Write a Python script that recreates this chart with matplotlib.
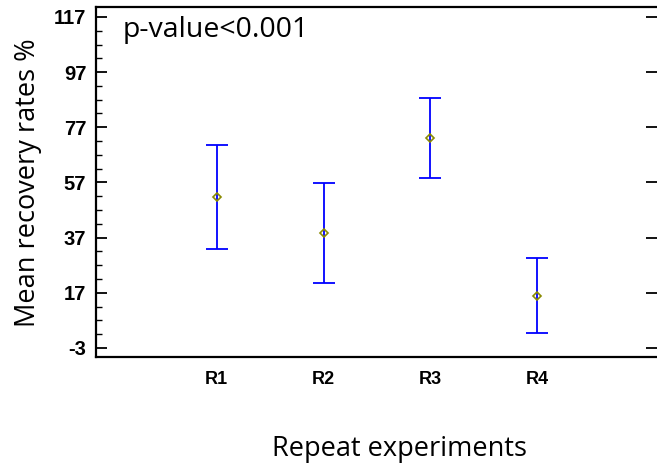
import matplotlib

matplotlib.use("Agg")
import matplotlib.pyplot as plt
from matplotlib.ticker import FixedLocator

plt.rcParams["axes.unicode_minus"] = False

# values
groups = ["R1", "R2", "R3", "R4"]
means = [51.8, 38.7, 73.2, 15.9]
errors = [18.9, 18.2, 14.5, 13.6]
y_ticks = [-3, 17, 37, 57, 77, 97, 117]

fig = plt.figure(figsize=(6.57, 4.68), dpi=100)
ax = fig.add_axes([96 / 657, 1 - 357 / 468, 1 - 96 / 657, 350 / 468])

x = list(range(1, len(groups) + 1))
ax.errorbar(x, means, yerr=errors, fmt="none", ecolor="#0000ff",
            elinewidth=1.3, capsize=8, capthick=1.3)
ax.plot(x, means, linestyle="none", marker="D", markersize=4.5,
        markerfacecolor="none", markeredgecolor="#8a8a00", markeredgewidth=1.2)

ax.set_xlim(-0.13, 5.12)
ax.set_ylim(-6.3, 120.6)
tick_font = dict(family="Liberation Sans", fontweight="bold")
ax.set_xticks(x, labels=groups, fontsize=13, **tick_font)
ax.set_yticks(y_ticks, labels=[str(v) for v in y_ticks], fontsize=14.5, **tick_font)
ax.yaxis.set_minor_locator(FixedLocator([v for v in range(-3, 118, 5) if v not in y_ticks]))

for side in ("left", "bottom", "top"):
    ax.spines[side].set_linewidth(1.6)
ax.spines["right"].set_visible(False)

ax.tick_params(axis="x", length=0, pad=10)
ax.tick_params(axis="y", which="major", direction="in", length=8, width=1.3,
               pad=7, left=True, right=True)
ax.tick_params(axis="y", which="minor", direction="in", length=4, width=1.0,
               left=True, right=False)

ax.text(0.048, 0.975, "p-value<0.001", transform=ax.transAxes, ha="left", va="top",
        fontsize=20.5, family="Open Sans")

fig.text(28 / 657, 1 - 183 / 468, "Mean recovery rates %", rotation=90,
         ha="center", va="center", fontsize=19.5, family="Open Sans")
fig.text(400 / 657, 1 - 449 / 468, "Repeat experiments", ha="center", va="center",
         fontsize=19.5, family="Open Sans")

fig.savefig("out.png", dpi=100)
